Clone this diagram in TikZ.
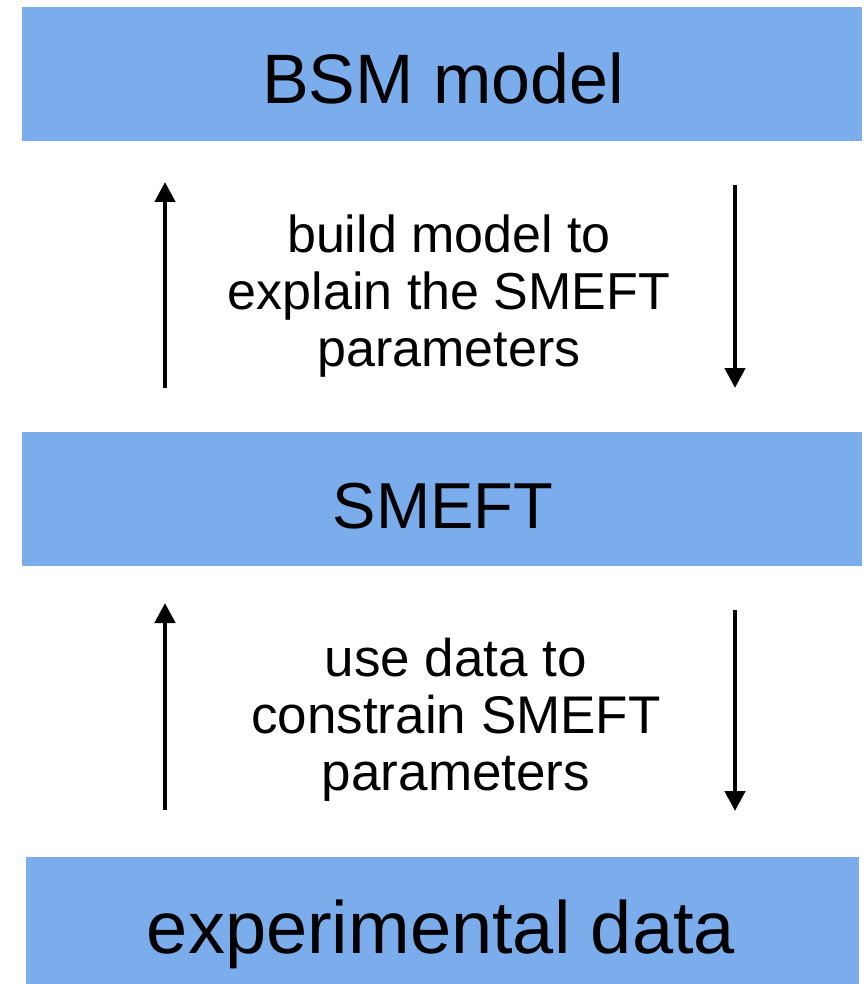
\documentclass[tikz,border=0pt]{standalone}
\usepackage{fontspec}
\setmainfont{Liberation Sans}
\usetikzlibrary{arrows.meta}
\definecolor{boxblue}{HTML}{7BADED}
\tikzset{
  layerbox/.style={fill=boxblue, draw=none},
  layerlabel/.style={anchor=base, inner sep=0pt, font=\fontsize{70}{84}\selectfont},
  explain/.style={anchor=base, inner sep=0pt, align=center, font=\fontsize{52}{57}\selectfont},
  flow/.style={line width=4.5pt, -{Triangle[width=20pt,length=20pt]}}
}
\begin{document}
\begin{tikzpicture}[x=1pt,y=-1pt]
\useasboundingbox (0,0) rectangle (865,984);
% boxes
\path[layerbox] (22,7) rectangle (862,141);
\path[layerbox] (22,432) rectangle (862,566);
\path[layerbox] (26,857) rectangle (859,984);
% labels
\node[layerlabel] (bsm) at (443,104) {BSM model};
\node[layerlabel, font=\fontsize{65}{78}\selectfont] (smeft) at (443,528) {SMEFT};
\node[layerlabel, font=\fontsize{74}{88}\selectfont] (data) at (441,953) {experimental data};
% explanations
\node[explain] (build) at (449,366) {build model to\\explain the SMEFT\\parameters};
\node[explain, font=\fontsize{53}{57}\selectfont] (use) at (456,790) {use data to\\constrain SMEFT\\parameters};
% arrow end points
\coordinate (u1s) at (165,388);
\coordinate (u1e) at (165,182);
\coordinate (d1s) at (735,185);
\coordinate (d1e) at (735,388);
\coordinate (u2s) at (165,810);
\coordinate (u2e) at (165,603);
\coordinate (d2s) at (735,610);
\coordinate (d2e) at (735,811);
\draw[flow] (u1s) -- (u1e);
\draw[flow] (d1s) -- (d1e);
\draw[flow] (u2s) -- (u2e);
\draw[flow] (d2s) -- (d2e);
\end{tikzpicture}
\end{document}
